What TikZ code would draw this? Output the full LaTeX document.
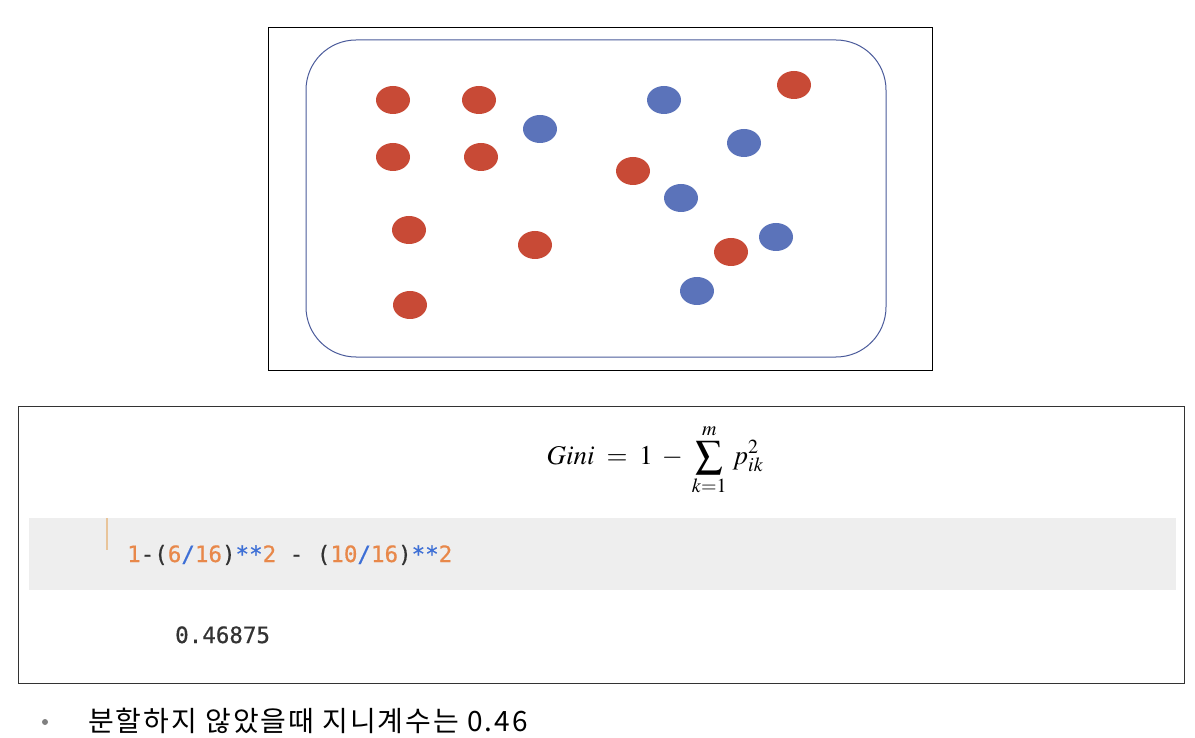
\documentclass[tikz,border=0pt]{standalone}
\usepackage{mathptmx}
\usepackage{fontspec}
\newfontfamily\krfont[LetterSpace=7]{Noto Sans CJK KR}
\newfontfamily\codefont[FakeBold=0.6]{DejaVu Sans Mono}
\usetikzlibrary{shapes.geometric}
\definecolor{dotred}{HTML}{C84A36}
\definecolor{dotblue}{HTML}{5B73BA}
\definecolor{framebl}{HTML}{4A5A9A}
\definecolor{cellgray}{HTML}{EEEEEE}
\definecolor{codeor}{HTML}{E8884A}
\definecolor{codebl}{HTML}{3D6FD6}
\definecolor{codedk}{HTML}{333333}
\definecolor{baror}{HTML}{E8C49A}
\begin{document}
\begin{tikzpicture}[x=1pt,y=-1pt,
  reddot/.style={ellipse,fill=dotred,minimum width=34pt,minimum height=28pt,inner sep=0pt},
  bluedot/.style={ellipse,fill=dotblue,minimum width=34pt,minimum height=28pt,inner sep=0pt},
  txt/.style={anchor=base west,inner sep=0pt}]
\useasboundingbox (0,0) rectangle (1195,738);
% top frame
\draw[black,line width=1pt] (268,28) rectangle (932,370);
\draw[framebl,line width=1pt,rounded corners=50pt] (306,40) rectangle (886,357);
% red dots
\node[reddot] (r1) at (393,100) {};
\node[reddot] (r2) at (479,100) {};
\node[reddot] (r3) at (393,157) {};
\node[reddot] (r4) at (481,157) {};
\node[reddot] (r5) at (409,230) {};
\node[reddot] (r6) at (535,245) {};
\node[reddot] (r7) at (410,305) {};
\node[reddot] (r8) at (633,171) {};
\node[reddot] (r9) at (794,85) {};
\node[reddot] (r10) at (731,252) {};
% blue dots
\node[bluedot] (b1) at (540,129) {};
\node[bluedot] (b2) at (664,100) {};
\node[bluedot] (b3) at (744,143) {};
\node[bluedot] (b4) at (681,198) {};
\node[bluedot] (b5) at (776,237) {};
\node[bluedot] (b6) at (697,291) {};
% bottom frame
\draw[codedk,line width=1pt] (18,406) rectangle (1184,683);
\node[anchor=center,inner sep=0pt] (gini) at (655,460)
  {\fontsize{27}{32}\selectfont\thickmuskip=8mu\medmuskip=6mu $\displaystyle Gini = 1 - \sum_{k=1}^{m}\, p_{ik}^{2}$};
\fill[cellgray] (29,518) rectangle (1176,590);
\draw[baror,line width=2pt] (107,518) -- (107,550);
\node[txt] (code) at (127,562) {\codefont\fontsize{22.5}{26}\selectfont
  \textcolor{codeor}{1}\textcolor{codedk}{-(}\textcolor{codeor}{6}\textcolor{codebl}{/}\textcolor{codeor}{16}\textcolor{codedk}{)}\textcolor{codebl}{**}\textcolor{codeor}{2}\textcolor{codedk}{\ -\ (}\textcolor{codeor}{10}\textcolor{codebl}{/}\textcolor{codeor}{16}\textcolor{codedk}{)}\textcolor{codebl}{**}\textcolor{codeor}{2}};
\node[txt] (out) at (175,643) {\codefont\fontsize{22.5}{26}\selectfont\textcolor{codedk}{0.46875}};
% bullet
\fill[gray] (45,722) circle (3pt);
\node[txt] (note) at (88,731) {\krfont\fontsize{28}{32}\selectfont 분할하지 않았을때 지니계수는 0.46};
\end{tikzpicture}
\end{document}
